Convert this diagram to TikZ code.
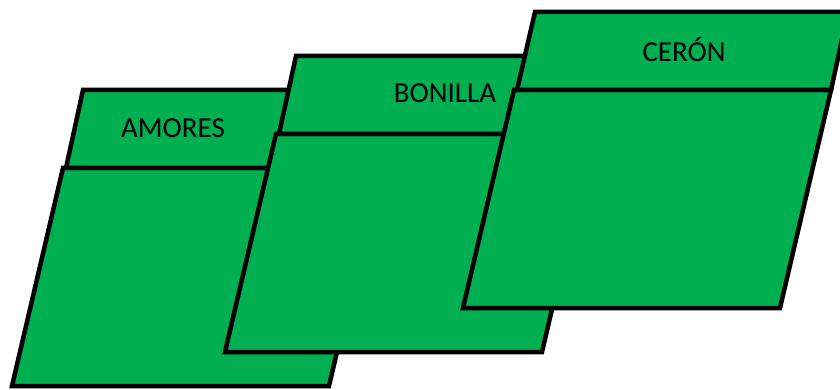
\documentclass[tikz,border=0pt]{standalone}
\usepackage{fontspec}
\setmainfont{Carlito}
\usepackage{tikz}
\definecolor{panelGreen}{HTML}{00B050}

\begin{document}
\begin{tikzpicture}[x=1pt, y=-1pt,
  panel/.style={draw=black, fill=panelGreen, line width=4.5pt, line join=miter},
  tag/.style={inner sep=0pt, font=\fontsize{29}{32}\selectfont}]
\useasboundingbox (0,0) rectangle (840,390);
% Amores
\draw[panel] (12,386) -- (329,386) -- (380,168) -- (63,168) -- cycle;
\draw[panel] (66,168) -- (380,168) -- (397,90) -- (83,90) -- cycle;
\node[tag] (amores) at (173,128) {AMORES};
% Bonilla
\draw[panel] (225,352) -- (542,352) -- (593,134) -- (276,134) -- cycle;
\draw[panel] (279,134) -- (593,134) -- (610,56) -- (296,56) -- cycle;
\node[tag] (bonilla) at (445,93) {BONILLA};
% Ceron
\draw[panel] (463,308) -- (780,308) -- (831,90) -- (514,90) -- cycle;
\draw[panel] (517,90) -- (831,90) -- (848,12) -- (535,12) -- cycle;
\node[tag] (ceron) at (684,49) {CERÓN};
\end{tikzpicture}
\end{document}
